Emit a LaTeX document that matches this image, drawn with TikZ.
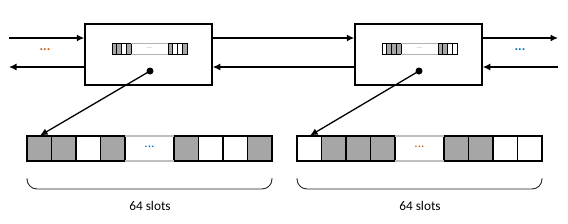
\documentclass[tikz,border=0pt]{standalone}
\usepackage{fontspec}
\setmainfont{Carlito}
\usetikzlibrary{arrows.meta,calc}
\definecolor{slotgray}{HTML}{A6A6A6}
\definecolor{dotblue}{HTML}{0070C0}
\definecolor{dotbrown}{HTML}{C55A11}

\begin{document}
\begin{tikzpicture}[
  x=1pt, y=-1pt,
  font=\fontsize{13.3}{16}\selectfont,
  blk/.style={draw, line width=1.5pt, minimum width=127pt, minimum height=61pt,
              inner sep=0pt, fill=white},
  slot/.style={draw, line width=1.8pt, minimum width=24.5pt, minimum height=25pt,
               inner sep=0pt, outer sep=0pt},
  bit/.style={draw, line width=0.9pt, minimum width=4.75pt, minimum height=11pt,
              inner sep=0pt, outer sep=0pt},
  gapline/.style={draw=black!25, line width=1.5pt},
  arr/.style={-{Latex[length=7.5pt,width=7pt]}, line width=1.3pt},
  ptr/.style={-{Latex[length=7.5pt,width=7pt]}, line width=1.3pt, shorten >=1pt},
  pin/.style={circle, fill=black, inner sep=0pt, minimum size=7pt},
  brace/.style={draw=black!85, line width=0.9pt, rounded corners=10pt},
  lab/.style={inner sep=1pt},
  tiny/.style={inner sep=0pt, text=dotblue!80, font=\fontsize{6}{6}\selectfont}
]
\useasboundingbox (0,0) rectangle (568,223);

% ================= the two blocks =================
\node[blk] (blkA) at (148.5,54.5) {};
\node[blk] (blkB) at (418.5,54.5) {};

\coordinate (inL) at (9,38);
\coordinate (outL) at (9,67);
\coordinate (outR) at (558,38);
\coordinate (inR) at (558,67);

\draw[arr] (inL) -- (inL -| blkA.west);
\draw[arr] (blkA.east |- inL) -- (blkB.west |- inL);
\draw[arr] (blkB.east |- inL) -- (outR);
\draw[arr] (blkA.west |- outL) -- (outL);
\draw[arr] (blkB.west |- outL) -- (blkA.east |- outL);
\draw[arr] (inR) -- (blkB.east |- inR);

\node[lab, text=dotbrown] (moreL) at (45,50) {\textbf{...}};
\node[lab, text=dotblue] (moreR) at (520,50) {\textbf{...}};

% ================= small bitmaps inside the blocks =================
\foreach \c [count=\i] in {slotgray,slotgray,white,slotgray}
  \node[bit, fill=\c] (ma\i) at ({112+2.375+4.75*(\i-1)},48.5) {};
\foreach \c [count=\i from 5] in {slotgray,white,white,slotgray}
  \node[bit, fill=\c] (ma\i) at ({168+2.375+4.75*(\i-5)},48.5) {};
\foreach \c [count=\i] in {white,slotgray,slotgray,slotgray}
  \node[bit, fill=\c] (mb\i) at ({382+2.375+4.75*(\i-1)},48.5) {};
\foreach \c [count=\i from 5] in {slotgray,slotgray,white,white}
  \node[bit, fill=\c] (mb\i) at ({438+2.375+4.75*(\i-5)},48.5) {};

\draw[draw=black!30, line width=0.8pt] (ma4.north east) -- (ma5.north west)
  (ma4.south east) -- (ma5.south west);
\draw[draw=black!30, line width=0.8pt] (mb4.north east) -- (mb5.north west)
  (mb4.south east) -- (mb5.south west);
\node[tiny] (gapma) at ($(ma4.east)!0.5!(ma5.west)$) {...};
\node[tiny] (gapmb) at ($(mb4.east)!0.5!(mb5.west)$) {...};

% ================= the two slot arrays =================
\foreach \c [count=\i] in {slotgray,slotgray,white,slotgray}
  \node[slot, fill=\c] (a\i) at ({27+12.25+24.5*(\i-1)},148.5) {};
\foreach \c [count=\i from 5] in {slotgray,white,white,slotgray}
  \node[slot, fill=\c] (a\i) at ({174+12.25+24.5*(\i-5)},148.5) {};
\foreach \c [count=\i] in {white,slotgray,slotgray,slotgray}
  \node[slot, fill=\c] (b\i) at ({297+12.25+24.5*(\i-1)},148.5) {};
\foreach \c [count=\i from 5] in {slotgray,slotgray,white,white}
  \node[slot, fill=\c] (b\i) at ({444+12.25+24.5*(\i-5)},148.5) {};

\draw[gapline] (a4.north east) -- (a5.north west) (a4.south east) -- (a5.south west);
\draw[gapline] (b4.north east) -- (b5.north west) (b4.south east) -- (b5.south west);
\node[lab, text=dotblue] (gapa) at ($(a4.east)!0.5!(a5.west)+(0,-2)$) {...};
\node[lab, text=dotbrown] (gapb) at ($(b4.east)!0.5!(b5.west)+(0,-2)$) {...};

% ================= pointers from the blocks =================
\node[pin] (pinA) at (150,71) {};
\node[pin] (pinB) at (419,71) {};
\draw[ptr] (pinA.center) -- (a1.north);
\draw[ptr] (pinB.center) -- (b1.north);

% ================= braces =================
\draw[brace] (a1.south west |- 0,178) -- (a1.south west |- 0,189)
  -- (a8.south east |- 0,189) -- (a8.south east |- 0,178);
\draw[brace] (b1.south west |- 0,178) -- (b1.south west |- 0,189)
  -- (b8.south east |- 0,189) -- (b8.south east |- 0,178);
\node[lab] (cntA) at (150,206) {64 slots};
\node[lab] (cntB) at (420,206) {64 slots};

\end{tikzpicture}
\end{document}
